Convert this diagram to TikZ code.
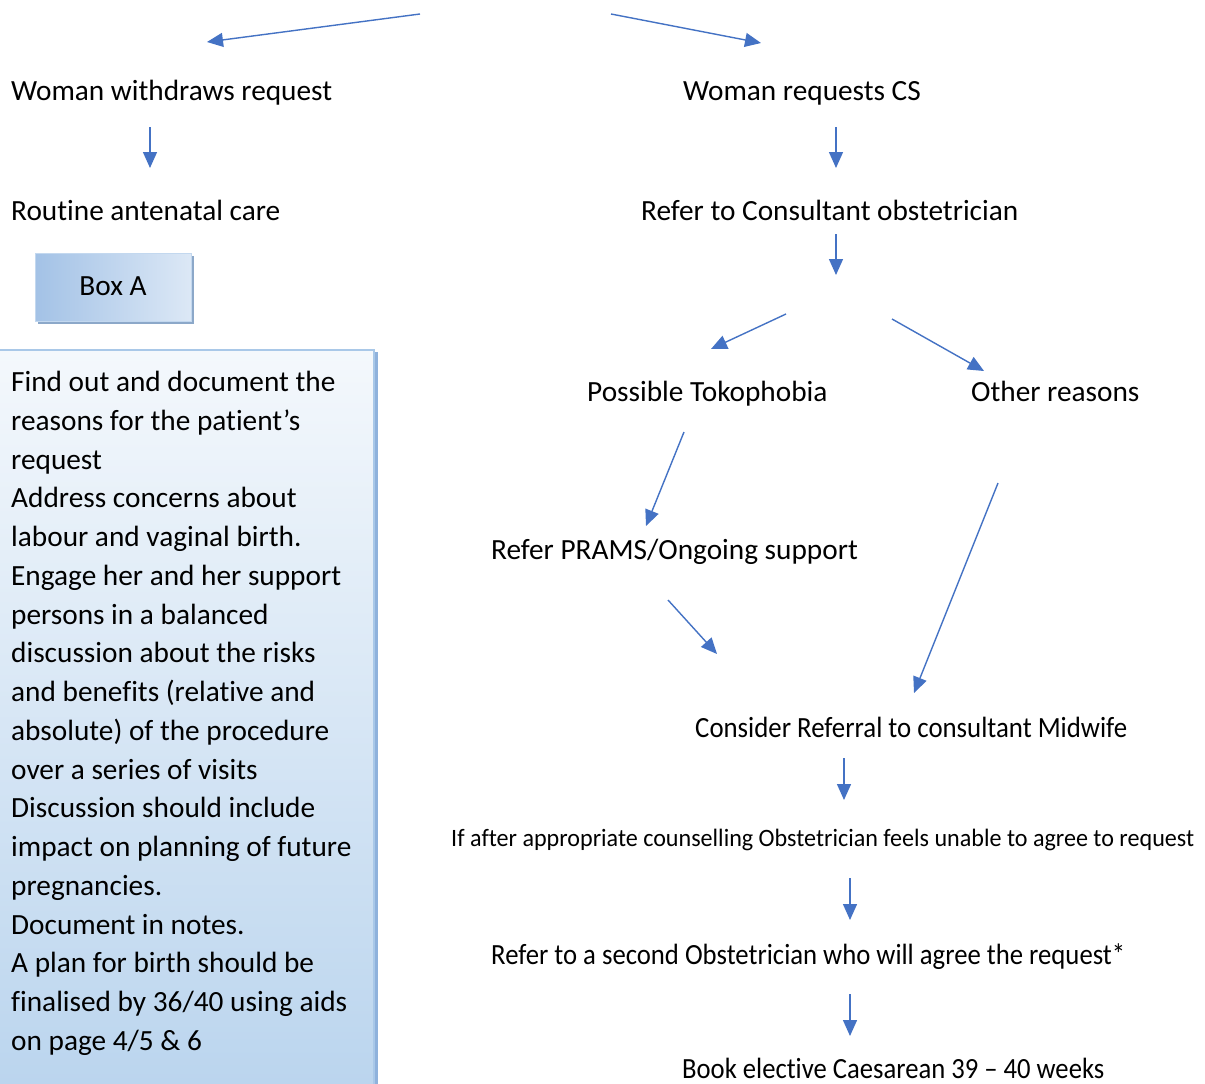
\documentclass[tikz,border=0pt]{standalone}
\usepackage{fontspec}
\setmainfont{Carlito}[Ligatures={NoCommon}]
\usetikzlibrary{arrows.meta}
\definecolor{arrowblue}{HTML}{4472C4}
\definecolor{boxborder}{HTML}{A9C8E8}
\definecolor{boxshadow}{HTML}{8FB2DC}
\definecolor{boxtop}{HTML}{F4F8FC}
\definecolor{boxbot}{HTML}{BBD5EE}
\definecolor{btop}{HTML}{A3C2E6}
\definecolor{bbot}{HTML}{DCE8F6}
\tikzset{
  lbl/.style={anchor=base west, inner sep=0pt, font=\fontsize{29.3}{38.75}\selectfont},
  flow/.style={draw=arrowblue, line width=1.4pt, -{Triangle[length=16pt,width=14pt]}},
}
\newcommand{\cw}[2]{\resizebox{#1pt}{\height}{#2}}
\begin{document}
\begin{tikzpicture}[x=1pt,y=-1pt]
\useasboundingbox (0,0) rectangle (1205,1084);
\fill[white] (0,0) rectangle (1205,1084);

% big box A contents
\fill[boxshadow] (372,352) rectangle (378,1084);
\shade[top color=boxtop, bottom color=boxbot] (-2,350) rectangle (374,1084);
\draw[boxborder, line width=1.5pt] (-2,1086) -- (-2,350) -- (374,350) -- (374,1086);

% Box A label box
\fill[boxshadow!80!gray] (38,256) rectangle (194,324);
\shade[shading angle=135, left color=btop, right color=bbot] (35,253) rectangle (191,321);
\draw[boxborder!70!white, line width=1pt] (35,253) rectangle (191,321);
\node[lbl, anchor=center] (boxa) at (113,286) {Box A};

% texts
\node[lbl] (withdraw) at (11,100) {Woman withdraws request};
\node[lbl] (requests) at (683,100) {Woman requests CS};
\node[lbl] (routine) at (11,220) {Routine antenatal care};
\node[lbl] (refercons) at (641,220) {Refer to Consultant obstetrician};
\node[lbl] (toko) at (587,401) {Possible Tokophobia};
\node[lbl] (other) at (971,401) {Other reasons};
\node[lbl] (prams) at (491,559) {Refer PRAMS/Ongoing support};
\node[lbl] (midwife) at (695,737) {\cw{432}{Consider Referral to consultant Midwife}};
\node[lbl, font=\fontsize{25}{30}\selectfont] (unable) at (451,846) {\cw{743}{If after appropriate counselling Obstetrician feels unable to agree to request}};
\node[lbl] (second) at (491,964) {\cw{634}{Refer to a second Obstetrician who will agree the request*}};
\node[lbl] (book) at (682,1078) {\cw{422}{Book elective Caesarean 39 -- 40 weeks}};

\node[lbl, align=left, anchor=north west] (boxtext) at (11,371) {%
Find out and document the\\
reasons for the patient’s\\
request\\
Address concerns about\\
labour and vaginal birth.\\
Engage her and her support\\
persons in a balanced\\
discussion about the risks\\
and benefits (relative and\\
absolute) of the procedure\\
over a series of visits\\
Discussion should include\\
impact on planning of future\\
pregnancies.\\
Document in notes.\\
A plan for birth should be\\
finalised by 36/40 using aids\\
on page 4/5 \& 6};

% arrow coordinates
\coordinate (a1s) at (420,14);  \coordinate (a1e) at (207,42);
\coordinate (a2s) at (611,14);  \coordinate (a2e) at (761,43);
\coordinate (a3s) at (150,127); \coordinate (a3e) at (150,168);
\coordinate (a4s) at (836,127); \coordinate (a4e) at (836,168);
\coordinate (a5s) at (836,234); \coordinate (a5e) at (836,275);
\coordinate (a6s) at (786,314); \coordinate (a6e) at (711,349);
\coordinate (a7s) at (892,319); \coordinate (a7e) at (984,371);
\coordinate (a8s) at (684,432); \coordinate (a8e) at (646,526);
\coordinate (a9s) at (998,483); \coordinate (a9e) at (914,693);
\coordinate (a10s) at (668,600); \coordinate (a10e) at (717,654);
\coordinate (a11s) at (844,758); \coordinate (a11e) at (844,800);
\coordinate (a12s) at (850,878); \coordinate (a12e) at (850,920);
\coordinate (a13s) at (850,994); \coordinate (a13e) at (850,1036);

\foreach \i in {1,...,13} \draw[flow] (a\i s) -- (a\i e);
\end{tikzpicture}
\end{document}
